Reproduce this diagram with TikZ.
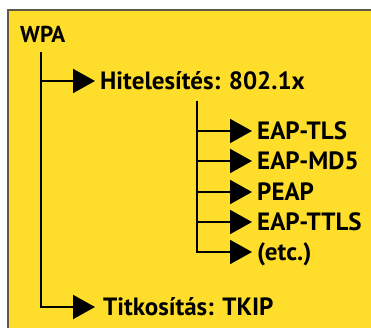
\documentclass[tikz,border=0pt]{standalone}
\usepackage{fontspec}
\setmainfont{PT Sans}
\usetikzlibrary{arrows.meta}
\definecolor{bgyellow}{RGB}{254,222,42}
\definecolor{framegray}{RGB}{95,90,80}
\begin{document}
\begin{tikzpicture}[x=1pt,y=-1pt,
  lbl/.style={anchor=west, inner sep=0pt, font=\bfseries\fontsize{25}{30}\selectfont, text height=17.5pt, text depth=0pt},
  conn/.style={line width=2pt, -{Triangle[length=22pt,width=24pt]}}]
\useasboundingbox (0,0) rectangle (371,328);
\fill[white] (0,0) rectangle (371,328);
\fill[bgyellow] (8,10) rectangle (371,328);
\draw[framegray, line width=1.2pt] (8,328) -- (8,10) -- (371,10);
\node[lbl, font=\bfseries\fontsize{23}{27}\selectfont, text height=16pt] (wpa) at (20,35) {WPA};
\node[lbl] (hit) at (100,81) {Hitelesítés: 802.1x};
\node[lbl] (tls) at (257,131) {EAP-TLS};
\node[lbl] (md5) at (257,161) {EAP-MD5};
\node[lbl] (peap) at (257,192) {PEAP};
\node[lbl] (ttls) at (257,222) {EAP-TTLS};
\node[lbl] (etc) at (257,252) {(etc.)};
\node[lbl] (tit) at (103,307) {Titkosítás: TKIP};
\coordinate (top) at (41,52);
\coordinate (subtop) at (197,101);
\draw[conn] (top) |- ([xshift=-5pt]hit.west);
\draw[conn] (top) |- ([xshift=-8pt]tit.west);
\foreach \n in {tls,md5,peap,ttls,etc}
  \draw[conn] (subtop) |- ([xshift=-5pt]\n.west);
\end{tikzpicture}
\end{document}
